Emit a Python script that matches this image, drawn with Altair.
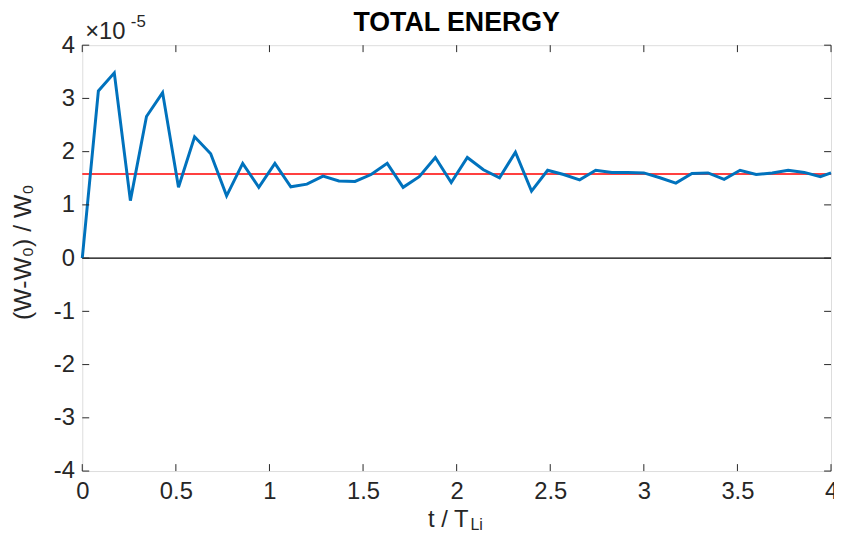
import altair as alt
import pandas as pd

# time in units of T_Li
t = [0.000, 0.086, 0.171, 0.257, 0.343, 0.429, 0.514, 0.600, 0.686, 0.771,
     0.857, 0.943, 1.029, 1.114, 1.200, 1.286, 1.371, 1.457, 1.543, 1.629,
     1.714, 1.800, 1.886, 1.971, 2.057, 2.143, 2.229, 2.314, 2.400, 2.486,
     2.571, 2.657, 2.743, 2.829, 2.914, 3.000, 3.086, 3.171, 3.257, 3.343,
     3.429, 3.514, 3.600, 3.686, 3.771, 3.857, 3.943, 4.000]
# (W-W0)/W0 in units of 1e-5
dw = [0.00, 3.14, 3.48, 1.08, 2.66, 3.11, 1.33, 2.28, 1.96, 1.17,
      1.78, 1.33, 1.78, 1.34, 1.39, 1.54, 1.45, 1.44, 1.57, 1.78,
      1.33, 1.53, 1.89, 1.42, 1.89, 1.66, 1.51, 1.99, 1.26, 1.65,
      1.57, 1.47, 1.65, 1.61, 1.61, 1.60, 1.51, 1.41, 1.59, 1.60,
      1.48, 1.65, 1.57, 1.60, 1.65, 1.61, 1.53, 1.60]
mean_level = 1.58
zero_level = 0.0
x_range = [0, 4]
y_range = [-4, 4]
x_ticks = [0, 0.5, 1, 1.5, 2, 2.5, 3, 3.5, 4]
y_ticks = [-4, -3, -2, -1, 0, 1, 2, 3, 4]

title_text = "TOTAL ENERGY"
exp_base = "×10"
exp_power = "-5"
ylabel_text = "(W-W₀) / W₀"
xlabel_main = "t / T"
xlabel_sub = "Li"

W, H = 756, 430
FONT = "Liberation Sans"
AX = "#262626"
LBL = 24

df = pd.DataFrame({"t": t, "dw": dw})
mean_df = pd.DataFrame({"t": x_range, "dw": [mean_level, mean_level]})
zero_df = pd.DataFrame({"t": x_range, "dw": [zero_level, zero_level]})
xt_df = pd.DataFrame({"t": x_ticks})
yt_df = pd.DataFrame({"dw": y_ticks})
one = pd.DataFrame({"k": [0]})

xscale = alt.Scale(domain=x_range, nice=False, zero=False)
yscale = alt.Scale(domain=y_range, nice=False, zero=False)

xaxis = alt.Axis(values=x_ticks, labelExpr="'' + datum.value", ticks=False,
                 domain=False, grid=False, labelFlush=False, labelPadding=9,
                 labelFontSize=LBL, labelColor=AX, labelFont=FONT, title=None)
yaxis = alt.Axis(values=y_ticks, labelExpr="'' + datum.value", ticks=False,
                 domain=False, grid=False, labelFlush=False, labelPadding=8,
                 labelFontSize=LBL, labelColor=AX, labelFont=FONT, title=None)

line = alt.Chart(df).mark_line(color="#0072BD", strokeWidth=3).encode(
    x=alt.X("t:Q", scale=xscale, axis=xaxis),
    y=alt.Y("dw:Q", scale=yscale, axis=yaxis),
)
zero_line = alt.Chart(zero_df).mark_line(color="black", strokeWidth=1.5).encode(
    x="t:Q", y="dw:Q")
mean_line = alt.Chart(mean_df).mark_line(color="#FF0000", strokeWidth=1.5).encode(
    x="t:Q", y="dw:Q")

tick_len = 7
xt_bottom = alt.Chart(xt_df).mark_rule(color=AX, strokeWidth=1).encode(
    x="t:Q", y=alt.value(H), y2=alt.value(H - tick_len))
xt_top = alt.Chart(xt_df).mark_rule(color=AX, strokeWidth=1).encode(
    x="t:Q", y=alt.value(0), y2=alt.value(tick_len))
yt_left = alt.Chart(yt_df).mark_rule(color=AX, strokeWidth=1).encode(
    y="dw:Q", x=alt.value(0), x2=alt.value(tick_len))
yt_right = alt.Chart(yt_df).mark_rule(color=AX, strokeWidth=1).encode(
    y="dw:Q", x=alt.value(W), x2=alt.value(W - tick_len))

title = alt.Chart(one).mark_text(text=title_text, font=FONT, fontSize=27,
                                 fontWeight="bold", align="center",
                                 baseline="alphabetic", color="black").encode(
    x=alt.value(W / 2), y=alt.value(-14))
exp1 = alt.Chart(one).mark_text(text=exp_base, font=FONT, fontSize=24,
                                align="left", baseline="alphabetic", color=AX).encode(
    x=alt.value(3), y=alt.value(-6))
exp2 = alt.Chart(one).mark_text(text=exp_power, font=FONT, fontSize=17,
                                align="left", baseline="alphabetic", color=AX).encode(
    x=alt.value(49), y=alt.value(-18))
ylab = alt.Chart(one).mark_text(text=ylabel_text, font=FONT, fontSize=25,
                                align="center", baseline="alphabetic", angle=270,
                                color=AX).encode(
    x=alt.value(-52), y=alt.value(209))
xlab1 = alt.Chart(one).mark_text(text=xlabel_main, font=FONT, fontSize=24,
                                 align="right", baseline="alphabetic", color=AX).encode(
    x=alt.value(390), y=alt.value(486))
xlab2 = alt.Chart(one).mark_text(text=xlabel_sub, font=FONT, fontSize=16,
                                 align="left", baseline="alphabetic", color=AX).encode(
    x=alt.value(392), y=alt.value(490))

chart = alt.layer(
    zero_line, mean_line, line, xt_bottom, xt_top, yt_left, yt_right,
    title, exp1, exp2, ylab, xlab1, xlab2
).properties(
    width=W, height=H,
    autosize=alt.AutoSizeParams(type="none"),
    padding={"left": 75, "top": 35, "right": 3, "bottom": 60},
).configure_view(stroke=AX, strokeWidth=1).configure(font=FONT)

chart.save("out.html", embed_options={"renderer": "svg", "actions": False})
